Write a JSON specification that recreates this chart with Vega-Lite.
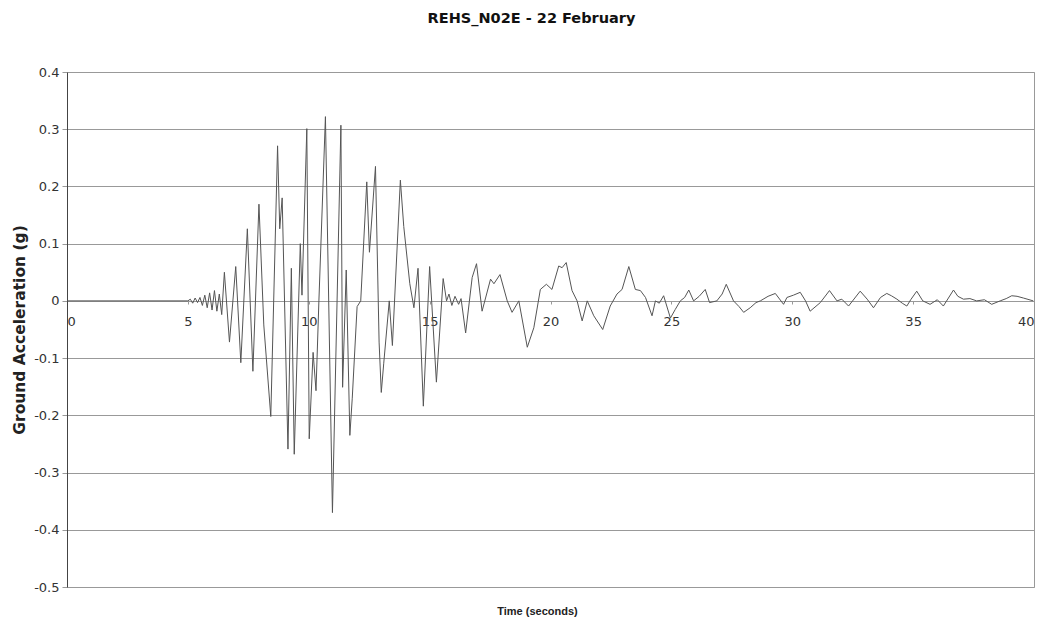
{
  "$schema": "https://vega.github.io/schema/vega-lite/v6.json",
  "autosize": "none",
  "width": 967,
  "height": 515,
  "padding": {"left": 67, "top": 72, "right": 11, "bottom": 34},
  "background": "white",
  "config": {
    "font": "DejaVu Sans",
    "view": {"stroke": "#999999", "strokeWidth": 1}
  },
  "title": {
    "text": "REHS_N02E - 22 February",
    "font": "DejaVu Sans",
    "fontSize": 14.5,
    "fontWeight": "bold",
    "color": "#111111",
    "anchor": "middle",
    "dx": -19,
    "offset": 40
  },
  "data": {
    "values": [
      {"t": 0, "a": 0}, {"t": 5.0, "a": 0},
      {"t": 5.1, "a": 0.003}, {"t": 5.2, "a": -0.004}, {"t": 5.3, "a": 0.005}, {"t": 5.4, "a": -0.003},
      {"t": 5.5, "a": 0.006}, {"t": 5.6, "a": -0.008}, {"t": 5.7, "a": 0.01}, {"t": 5.8, "a": -0.012},
      {"t": 5.9, "a": 0.014}, {"t": 6.0, "a": -0.016}, {"t": 6.1, "a": 0.018}, {"t": 6.2, "a": -0.018},
      {"t": 6.3, "a": 0.012}, {"t": 6.4, "a": -0.024},
      {"t": 6.51, "a": 0.05}, {"t": 6.72, "a": -0.072}, {"t": 6.98, "a": 0.06}, {"t": 7.19, "a": -0.108},
      {"t": 7.46, "a": 0.126}, {"t": 7.69, "a": -0.123}, {"t": 7.94, "a": 0.169}, {"t": 8.14, "a": -0.042},
      {"t": 8.43, "a": -0.202}, {"t": 8.71, "a": 0.271}, {"t": 8.8, "a": 0.126}, {"t": 8.9, "a": 0.18},
      {"t": 9.14, "a": -0.259}, {"t": 9.28, "a": 0.057}, {"t": 9.4, "a": -0.268}, {"t": 9.65, "a": 0.1},
      {"t": 9.72, "a": 0.01}, {"t": 9.92, "a": 0.301}, {"t": 10.02, "a": -0.241}, {"t": 10.18, "a": -0.09},
      {"t": 10.3, "a": -0.157}, {"t": 10.42, "a": 0.0}, {"t": 10.69, "a": 0.322}, {"t": 10.98, "a": -0.37},
      {"t": 11.33, "a": 0.307}, {"t": 11.4, "a": -0.151}, {"t": 11.55, "a": 0.054}, {"t": 11.7, "a": -0.235},
      {"t": 11.8, "a": -0.17}, {"t": 12.0, "a": -0.01}, {"t": 12.15, "a": 0.0}, {"t": 12.4, "a": 0.208},
      {"t": 12.51, "a": 0.085}, {"t": 12.76, "a": 0.235}, {"t": 12.91, "a": -0.072}, {"t": 13.0, "a": -0.16},
      {"t": 13.1, "a": -0.11}, {"t": 13.33, "a": 0.0}, {"t": 13.46, "a": -0.078}, {"t": 13.79, "a": 0.211},
      {"t": 13.93, "a": 0.13}, {"t": 14.18, "a": 0.03}, {"t": 14.35, "a": -0.012}, {"t": 14.52, "a": 0.057},
      {"t": 14.74, "a": -0.184}, {"t": 15.0, "a": 0.06}, {"t": 15.28, "a": -0.142}, {"t": 15.56, "a": 0.039},
      {"t": 15.7, "a": 0.0}, {"t": 15.8, "a": 0.012}, {"t": 15.92, "a": -0.008}, {"t": 16.05, "a": 0.008},
      {"t": 16.2, "a": -0.006}, {"t": 16.3, "a": 0.004}, {"t": 16.49, "a": -0.056}, {"t": 16.76, "a": 0.041},
      {"t": 16.94, "a": 0.065}, {"t": 17.17, "a": -0.018}, {"t": 17.52, "a": 0.038}, {"t": 17.66, "a": 0.03},
      {"t": 17.91, "a": 0.046}, {"t": 18.21, "a": 0.0}, {"t": 18.41, "a": -0.02}, {"t": 18.69, "a": 0.0},
      {"t": 19.04, "a": -0.081}, {"t": 19.31, "a": -0.047}, {"t": 19.58, "a": 0.02}, {"t": 19.83, "a": 0.029},
      {"t": 20.06, "a": 0.02}, {"t": 20.34, "a": 0.061}, {"t": 20.48, "a": 0.058}, {"t": 20.65, "a": 0.067},
      {"t": 20.89, "a": 0.018}, {"t": 21.1, "a": 0.0}, {"t": 21.31, "a": -0.035}, {"t": 21.52, "a": 0.0},
      {"t": 21.79, "a": -0.026}, {"t": 22.16, "a": -0.05}, {"t": 22.47, "a": -0.009}, {"t": 22.75, "a": 0.012},
      {"t": 22.96, "a": 0.02}, {"t": 23.24, "a": 0.06}, {"t": 23.51, "a": 0.02}, {"t": 23.72, "a": 0.018},
      {"t": 23.93, "a": 0.006}, {"t": 24.2, "a": -0.026}, {"t": 24.34, "a": 0.0}, {"t": 24.5, "a": -0.004},
      {"t": 24.68, "a": 0.009}, {"t": 24.96, "a": -0.03}, {"t": 25.16, "a": -0.015}, {"t": 25.37, "a": 0.0},
      {"t": 25.55, "a": 0.006}, {"t": 25.72, "a": 0.019}, {"t": 25.92, "a": 0.0}, {"t": 26.15, "a": 0.008},
      {"t": 26.4, "a": 0.02}, {"t": 26.58, "a": -0.003}, {"t": 26.88, "a": 0.0}, {"t": 27.1, "a": 0.012},
      {"t": 27.27, "a": 0.029}, {"t": 27.57, "a": 0.0}, {"t": 27.8, "a": -0.01}, {"t": 27.99, "a": -0.02},
      {"t": 28.26, "a": -0.012}, {"t": 28.5, "a": -0.003}, {"t": 28.68, "a": 0.0}, {"t": 29.0, "a": 0.008},
      {"t": 29.3, "a": 0.013}, {"t": 29.64, "a": -0.006}, {"t": 29.78, "a": 0.006}, {"t": 30.05, "a": 0.01},
      {"t": 30.33, "a": 0.015}, {"t": 30.55, "a": 0.0}, {"t": 30.74, "a": -0.018}, {"t": 31.16, "a": -0.003},
      {"t": 31.54, "a": 0.018}, {"t": 31.85, "a": 0.0}, {"t": 32.05, "a": 0.003}, {"t": 32.33, "a": -0.009},
      {"t": 32.81, "a": 0.017}, {"t": 33.1, "a": 0.003}, {"t": 33.36, "a": -0.012}, {"t": 33.65, "a": 0.006},
      {"t": 33.91, "a": 0.013}, {"t": 34.1, "a": 0.009}, {"t": 34.33, "a": 0.003}, {"t": 34.55, "a": -0.004},
      {"t": 34.74, "a": -0.009}, {"t": 34.9, "a": 0.002}, {"t": 35.15, "a": 0.017}, {"t": 35.4, "a": 0.0},
      {"t": 35.7, "a": -0.006}, {"t": 36.0, "a": 0.002}, {"t": 36.25, "a": -0.009}, {"t": 36.67, "a": 0.019},
      {"t": 36.85, "a": 0.008}, {"t": 37.08, "a": 0.003}, {"t": 37.35, "a": 0.004}, {"t": 37.63, "a": 0.0},
      {"t": 37.95, "a": 0.002}, {"t": 38.25, "a": -0.006}, {"t": 38.6, "a": 0.0}, {"t": 38.85, "a": 0.004},
      {"t": 39.08, "a": 0.009}, {"t": 39.3, "a": 0.008}, {"t": 39.56, "a": 0.005}, {"t": 39.97, "a": 0.0}
    ]
  },
  "mark": {"type": "line", "color": "#555555", "strokeWidth": 1, "interpolate": "linear"},
  "encoding": {
    "x": {
      "field": "t",
      "type": "quantitative",
      "scale": {"domain": [0, 40], "nice": false, "zero": false},
      "axis": {
        "values": [0, 5, 10, 15, 20, 25, 30, 35, 40],
        "offset": -286,
        "grid": false,
        "domain": false,
        "ticks": true,
        "tickSize": 3,
        "tickColor": "#999999",
        "labelPadding": 11,
        "labelFont": "DejaVu Sans",
        "labelFontSize": 13,
        "labelColor": "#333333",
        "title": "Time (seconds)",
        "titleFont": "Liberation Sans",
        "titleFontSize": 11,
        "titleFontWeight": "bold",
        "titleColor": "#222222",
        "titleX": 470,
        "titleY": 310,
        "titleBaseline": "middle"
      }
    },
    "y": {
      "field": "a",
      "type": "quantitative",
      "scale": {"domain": [-0.5, 0.4], "nice": false, "zero": false},
      "axis": {
        "values": [-0.5, -0.4, -0.3, -0.2, -0.1, 0, 0.1, 0.2, 0.3, 0.4],
        "labelExpr": "abs(datum.value) < 1e-9 ? '0' : (datum.value < 0 ? '-' + format(-datum.value, '.1f') : format(datum.value, '.1f'))",
        "grid": true,
        "gridColor": "#999999",
        "gridWidth": 1.2,
        "gridOpacity": 1,
        "domain": true,
        "domainColor": "#444444",
        "domainWidth": 1,
        "tickSize": 5,
        "tickColor": "#999999",
        "labelPadding": 3,
        "labelFont": "DejaVu Sans",
        "labelFontSize": 13,
        "labelColor": "#333333",
        "title": "Ground Acceleration (g)",
        "titleFont": "DejaVu Sans",
        "titleFontSize": 15.5,
        "titleFontWeight": "bold",
        "titleColor": "#222222",
        "titlePadding": 6
      }
    }
  }
}
